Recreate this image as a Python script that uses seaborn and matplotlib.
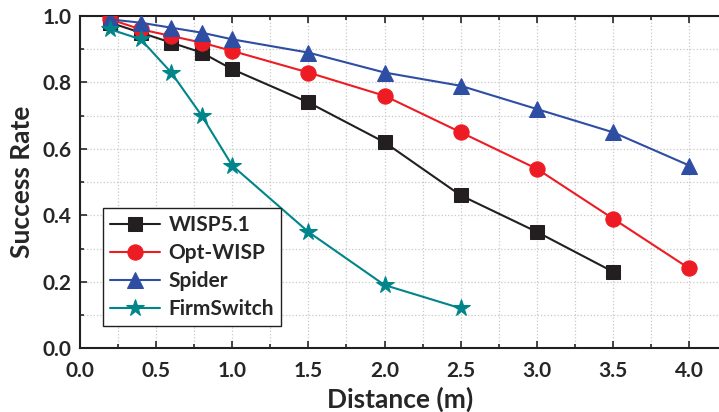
import numpy as np
import pandas as pd
import matplotlib
matplotlib.use("Agg")
import matplotlib.pyplot as plt
import matplotlib.ticker as mticker
import seaborn as sns

# Data
wisp_x = [0.2, 0.4, 0.6, 0.8, 1.0, 1.5, 2.0, 2.5, 3.0, 3.5]
wisp_y = [0.98, 0.95, 0.92, 0.89, 0.84, 0.74, 0.62, 0.46, 0.35, 0.23]

opt_x = [0.2, 0.4, 0.6, 0.8, 1.0, 1.5, 2.0, 2.5, 3.0, 3.5, 4.0]
opt_y = [0.99, 0.96, 0.94, 0.92, 0.895, 0.83, 0.76, 0.65, 0.54, 0.39, 0.24]

spider_x = [0.2, 0.4, 0.6, 0.8, 1.0, 1.5, 2.0, 2.5, 3.0, 3.5, 4.0]
spider_y = [0.99, 0.98, 0.965, 0.95, 0.93, 0.89, 0.83, 0.79, 0.72, 0.65, 0.55]

firm_x = [0.2, 0.4, 0.6, 0.8, 1.0, 1.5, 2.0, 2.5]
firm_y = [0.96, 0.93, 0.83, 0.70, 0.55, 0.35, 0.19, 0.12]

series = [
    ("WISP5.1", wisp_x, wisp_y, "#231f20", "s", 10),
    ("Opt-WISP", opt_x, opt_y, "#ed1c24", "o", 11),
    ("Spider", spider_x, spider_y, "#2e4ea3", "^", 11),
    ("FirmSwitch", firm_x, firm_y, "#00858a", "*", 13),
]

sns.set_style("ticks")
plt.rcParams["font.family"] = ["Lato", "DejaVu Sans"]
plt.rcParams["font.weight"] = "bold"

fig = plt.figure(figsize=(7.19, 4.12), dpi=100)
ax = fig.add_axes([0.111, 0.155, 0.89, 0.806])

for name, xs, ys, col, mk, ms in series:
    df = pd.DataFrame({"x": xs, "y": ys})
    sns.lineplot(data=df, x="x", y="y", ax=ax, color=col, marker=mk,
                 markersize=ms, markeredgecolor=col, linewidth=1.5,
                 label=name, zorder=3)

ax.set_xlim(0, 4.2)
ax.set_ylim(0, 1.0)
ax.xaxis.set_major_locator(mticker.MultipleLocator(0.5))
ax.xaxis.set_minor_locator(mticker.MultipleLocator(0.25))
ax.yaxis.set_major_locator(mticker.MultipleLocator(0.2))
ax.yaxis.set_minor_locator(mticker.MultipleLocator(0.1))
ax.xaxis.set_major_formatter(mticker.FormatStrFormatter("%.1f"))
ax.yaxis.set_major_formatter(mticker.FormatStrFormatter("%.1f"))

ax.grid(True, which="both", color="#c8c8c8", linestyle=":", linewidth=0.9)
ax.tick_params(which="both", direction="in", top=True, right=False, width=1.2)
ax.tick_params(which="major", length=5, labelsize=15)
ax.tick_params(axis="x", which="major", pad=9)
ax.tick_params(axis="y", which="major", pad=6)
ax.tick_params(which="minor", length=3)
for sp in ["top", "bottom", "left"]:
    ax.spines[sp].set_visible(True)
    ax.spines[sp].set_linewidth(1.5)
    ax.spines[sp].set_color("#231f20")
ax.spines["right"].set_visible(False)

ax.set_xlabel("Distance (m)", fontsize=19, fontweight="bold", labelpad=4)
ax.set_ylabel("Success Rate", fontsize=19, fontweight="bold", labelpad=6)

leg = ax.legend(loc="lower left", bbox_to_anchor=(0.036, 0.066), fancybox=False,
                edgecolor="#231f20", framealpha=1, fontsize=15, handlelength=2.4,
                borderaxespad=0, labelspacing=0.38, handletextpad=0.4,
                borderpad=0.35)
leg.get_frame().set_linewidth(1.0)

fig.savefig("out.png", dpi=100)
